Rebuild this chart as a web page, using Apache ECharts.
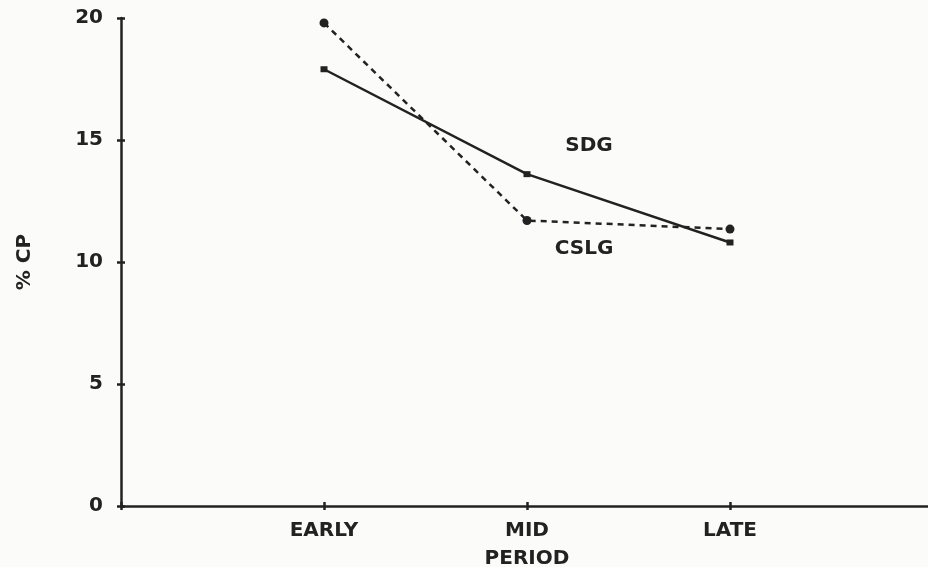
<!DOCTYPE html>
<html>
<head>
<meta charset="utf-8">
<script src="https://cdn.jsdelivr.net/npm/echarts@6/dist/echarts.min.js"></script>
<style>
  html, body { margin: 0; padding: 0; background: #fbfbfa; }
  #chart { width: 928px; height: 567px; }
</style>
</head>
<body>
<div id="chart"></div>
<script>
// Periods along the x axis (positions 1..3 on a 0..4 value scale)
const periods = ['EARLY', 'MID', 'LATE'];
const periodPos = [1, 2, 3];

// %CP by period
const sdg = [17.9, 13.6, 10.8];
const cslg = [19.8, 11.7, 11.35];

const yTicks = [0, 5, 10, 15, 20];

const ink = '#222222';
const font = '"DejaVu Sans", Verdana, sans-serif';

const toPoints = vals => vals.map((v, i) => [periodPos[i], v]);

const sdgData = toPoints(sdg).map((p, i) => i === 1 ? {
  value: p,
  label: {
    show: true, formatter: 'SDG', position: 'top', offset: [62, -10],
    color: ink, fontFamily: font, fontWeight: 'bold', fontSize: 20
  }
} : p);

const cslgData = toPoints(cslg).map((p, i) => i === 1 ? {
  value: p,
  label: {
    show: true, formatter: 'CSLG', position: 'bottom', offset: [57, 9],
    color: ink, fontFamily: font, fontWeight: 'bold', fontSize: 20
  }
} : p);

const chart = echarts.init(document.getElementById('chart'));

const axisText = { color: ink, fontFamily: font, fontWeight: 'bold', fontSize: 20 };

chart.setOption({
  backgroundColor: '#fbfbfa',
  animation: false,
  grid: { left: 121, right: -5, top: 18, bottom: 61, outerBoundsMode: 'none', containLabel: false },
  xAxis: [
    {
      type: 'value', min: 0, max: 4, interval: 1,
      name: 'PERIOD', nameLocation: 'middle', nameGap: 43,
      nameTextStyle: axisText,
      axisLine: { show: true, lineStyle: { color: ink, width: 2.5 } },
      axisTick: { show: true, length: 4, lineStyle: { color: ink, width: 2.5 } },
      axisLabel: Object.assign({
        margin: 15,
        formatter: v => {
          const k = periodPos.indexOf(v);
          return k >= 0 ? periods[k] : '';
        }
      }, axisText),
      splitLine: { show: false }
    },
    {
      type: 'value', min: 0, max: 4, interval: 1, position: 'bottom',
      axisLine: { show: false },
      axisTick: { show: true, inside: true, length: 4, lineStyle: { color: ink, width: 2.5 } },
      axisLabel: { show: false },
      splitLine: { show: false }
    }
  ],
  yAxis: [
    {
      type: 'value', min: yTicks[0], max: yTicks[yTicks.length - 1], interval: 5,
      name: '% CP', nameLocation: 'middle', nameGap: 86, nameRotate: 90,
      nameTextStyle: axisText,
      axisLine: { show: true, lineStyle: { color: ink, width: 2.5 } },
      axisTick: { show: true, length: 4, lineStyle: { color: ink, width: 2.5 } },
      axisLabel: Object.assign({ margin: 18 }, axisText),
      splitLine: { show: false }
    },
    {
      type: 'value', min: yTicks[0], max: yTicks[yTicks.length - 1], interval: 5, position: 'left',
      axisLine: { show: false },
      axisTick: { show: true, inside: true, length: 4, lineStyle: { color: ink, width: 2.5 } },
      axisLabel: { show: false },
      splitLine: { show: false }
    }
  ],
  series: [
    {
      name: 'SDG', type: 'line', xAxisIndex: 0, yAxisIndex: 0,
      data: sdgData,
      symbol: 'rect', symbolSize: [7, 6],
      itemStyle: { color: ink },
      lineStyle: { color: ink, width: 2.5 }
    },
    {
      name: 'CSLG', type: 'line', xAxisIndex: 0, yAxisIndex: 0,
      data: cslgData,
      symbol: 'circle', symbolSize: 9,
      itemStyle: { color: ink },
      lineStyle: { color: ink, width: 2.5, type: [6, 5] }
    }
  ]
});
</script>
</body>
</html>
